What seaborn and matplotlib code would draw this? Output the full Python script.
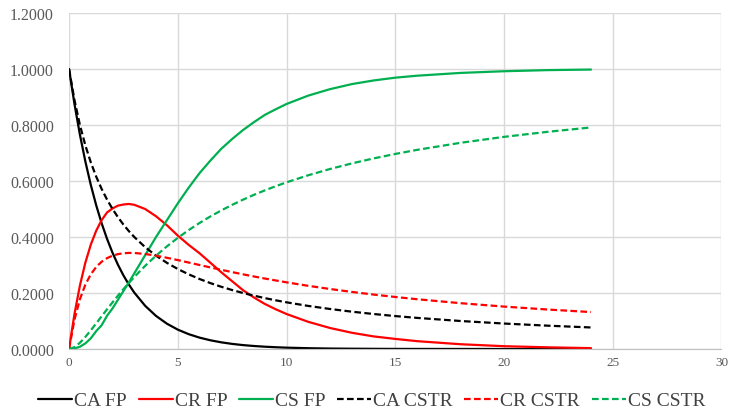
import numpy as np
import pandas as pd
import matplotlib
matplotlib.use("Agg")
import matplotlib.pyplot as plt
import seaborn as sns

t = [0, 0.25, 0.5, 0.75, 1, 1.25, 1.5, 1.75, 2, 2.25, 2.5, 2.75, 3, 3.5, 4,
     4.5, 5, 5.5, 6, 6.5, 7, 7.5, 8, 8.5, 9, 9.5, 10,
     11, 12, 13, 14, 15, 16, 18, 20, 22, 24]

ca_fp = [1.0, 0.875, 0.7656, 0.6699, 0.5862, 0.5130, 0.4488, 0.3928, 0.3436,
         0.3007, 0.2630, 0.2303, 0.2014, 0.1542, 0.1181,
         0.0904, 0.0692, 0.0530, 0.0406, 0.0311, 0.0238, 0.0182, 0.0139, 0.0107,
         0.0082, 0.0063, 0.0048,
         0.0028, 0.0016, 0.0010, 0.0006, 0.0003, 0.0002, 0.0001, 0.0, 0.0, 0.0]
cr_fp = [0.0, 0.125, 0.2266, 0.3082, 0.3726, 0.4226, 0.4604, 0.4878, 0.5020,
         0.5120, 0.5160, 0.5180, 0.5150, 0.5000, 0.4740,
         0.4420, 0.4050, 0.3720, 0.3420, 0.3080, 0.2740, 0.2420, 0.2100, 0.1840,
         0.1610, 0.1420, 0.1250,
         0.0970, 0.0750, 0.0580, 0.0450, 0.0360, 0.0280, 0.0170, 0.0100, 0.0060,
         0.0030]
cs_fp = [0.0, 0.002, 0.008, 0.020, 0.038, 0.064, 0.085, 0.119, 0.145,
         0.176, 0.207, 0.238, 0.270, 0.335, 0.400,
         0.460, 0.520, 0.576, 0.628, 0.673, 0.715, 0.750, 0.782, 0.810,
         0.836, 0.856, 0.875,
         0.905, 0.928, 0.946, 0.959, 0.969, 0.976, 0.986, 0.992, 0.996, 0.998]
ca_cstr = [1.0, 0.8889, 0.8000, 0.7273, 0.6667, 0.6154, 0.5714, 0.5333, 0.5000,
           0.4706, 0.4444, 0.4211, 0.4000, 0.3636, 0.3333,
           0.3077, 0.2857, 0.2667, 0.2500, 0.2353, 0.2222, 0.2105, 0.2000, 0.1905,
           0.1818, 0.1739, 0.1667,
           0.1538, 0.1429, 0.1333, 0.1250, 0.1176, 0.1111, 0.1000, 0.0909, 0.0833,
           0.0769]
cr_cstr = [0.0, 0.1046, 0.1778, 0.2297, 0.2667, 0.2930, 0.3117, 0.3246, 0.3333,
           0.3388, 0.3419, 0.3431, 0.3429, 0.3394, 0.3333,
           0.3258, 0.3175, 0.3088, 0.3000, 0.2913, 0.2828, 0.2746, 0.2667, 0.2590,
           0.2517, 0.2448, 0.2381,
           0.2256, 0.2143, 0.2039, 0.1944, 0.1858, 0.1778, 0.1636, 0.1515, 0.1410,
           0.1319]
cs_cstr = [0.0, 0.0065, 0.0222, 0.0430, 0.0667, 0.0916, 0.1169, 0.1421, 0.1667,
           0.1906, 0.2137, 0.2358, 0.2571, 0.2970, 0.3333,
           0.3665, 0.3968, 0.4245, 0.4500, 0.4734, 0.4949, 0.5149, 0.5333, 0.5505,
           0.5664, 0.5813, 0.5952,
           0.6205, 0.6429, 0.6627, 0.6806, 0.6966, 0.7111, 0.7364, 0.7576, 0.7756,
           0.7912]

series_names = ["CA FP", "CR FP", "CS FP", "CA CSTR", "CR CSTR", "CS CSTR"]
series_vals = [ca_fp, cr_fp, cs_fp, ca_cstr, cr_cstr, cs_cstr]
x_ticks = [0, 5, 10, 15, 20, 25, 30]
y_ticks = [0.0, 0.2, 0.4, 0.6, 0.8, 1.0, 1.2]

df = pd.concat([pd.DataFrame({"t": t, "C": v, "series": n})
                for n, v in zip(series_names, series_vals)], ignore_index=True)

sns.set_style("white")
plt.rcParams["font.family"] = ["Liberation Serif", "DejaVu Serif"]

colors = {"CA FP": "#000000", "CR FP": "#FF0000", "CS FP": "#00B050",
          "CA CSTR": "#000000", "CR CSTR": "#FF0000", "CS CSTR": "#00B050"}
dash = (3, 1.5)
dashes = {"CA FP": "", "CR FP": "", "CS FP": "",
          "CA CSTR": dash, "CR CSTR": dash, "CS CSTR": dash}

fig = plt.figure(figsize=(7.29, 4.14), dpi=100)
ax = fig.add_axes([0.0947, 0.1546, 0.895, 0.8116])

sns.lineplot(data=df, x="t", y="C", hue="series", style="series",
             hue_order=series_names, style_order=series_names,
             palette=colors, dashes=dashes, linewidth=1.6, ax=ax, legend=True)

ax.set_xlim(0, 30)
ax.set_ylim(0, 1.2)
ax.set_xticks(x_ticks)
ax.set_xticklabels([str(v) for v in x_ticks])
ax.set_yticks(y_ticks)
ax.set_yticklabels([f"{v:.4f}" for v in y_ticks])
ax.set_xlabel("")
ax.set_ylabel("")
ax.grid(True, color="#d9d9d9", linewidth=1.0)
ax.set_axisbelow(True)
for s in ["top", "right", "left"]:
    ax.spines[s].set_visible(False)
ax.spines["bottom"].set_color("#bfbfbf")
ax.tick_params(axis="both", length=0, colors="#595959")
ax.tick_params(axis="y", labelsize=11.5, pad=11)
ax.tick_params(axis="x", labelsize=9.5, pad=5)

handles, labels = ax.get_legend_handles_labels()
ax.get_legend().remove()
leg = fig.legend(handles, labels, loc="center", bbox_to_anchor=(0.51, 0.03),
                 ncol=6, frameon=False, fontsize=14, handlelength=1.75,
                 handletextpad=0.1, columnspacing=0.6)
for txt in leg.get_texts():
    txt.set_color("#404040")

fig.savefig("out.png", dpi=100)
